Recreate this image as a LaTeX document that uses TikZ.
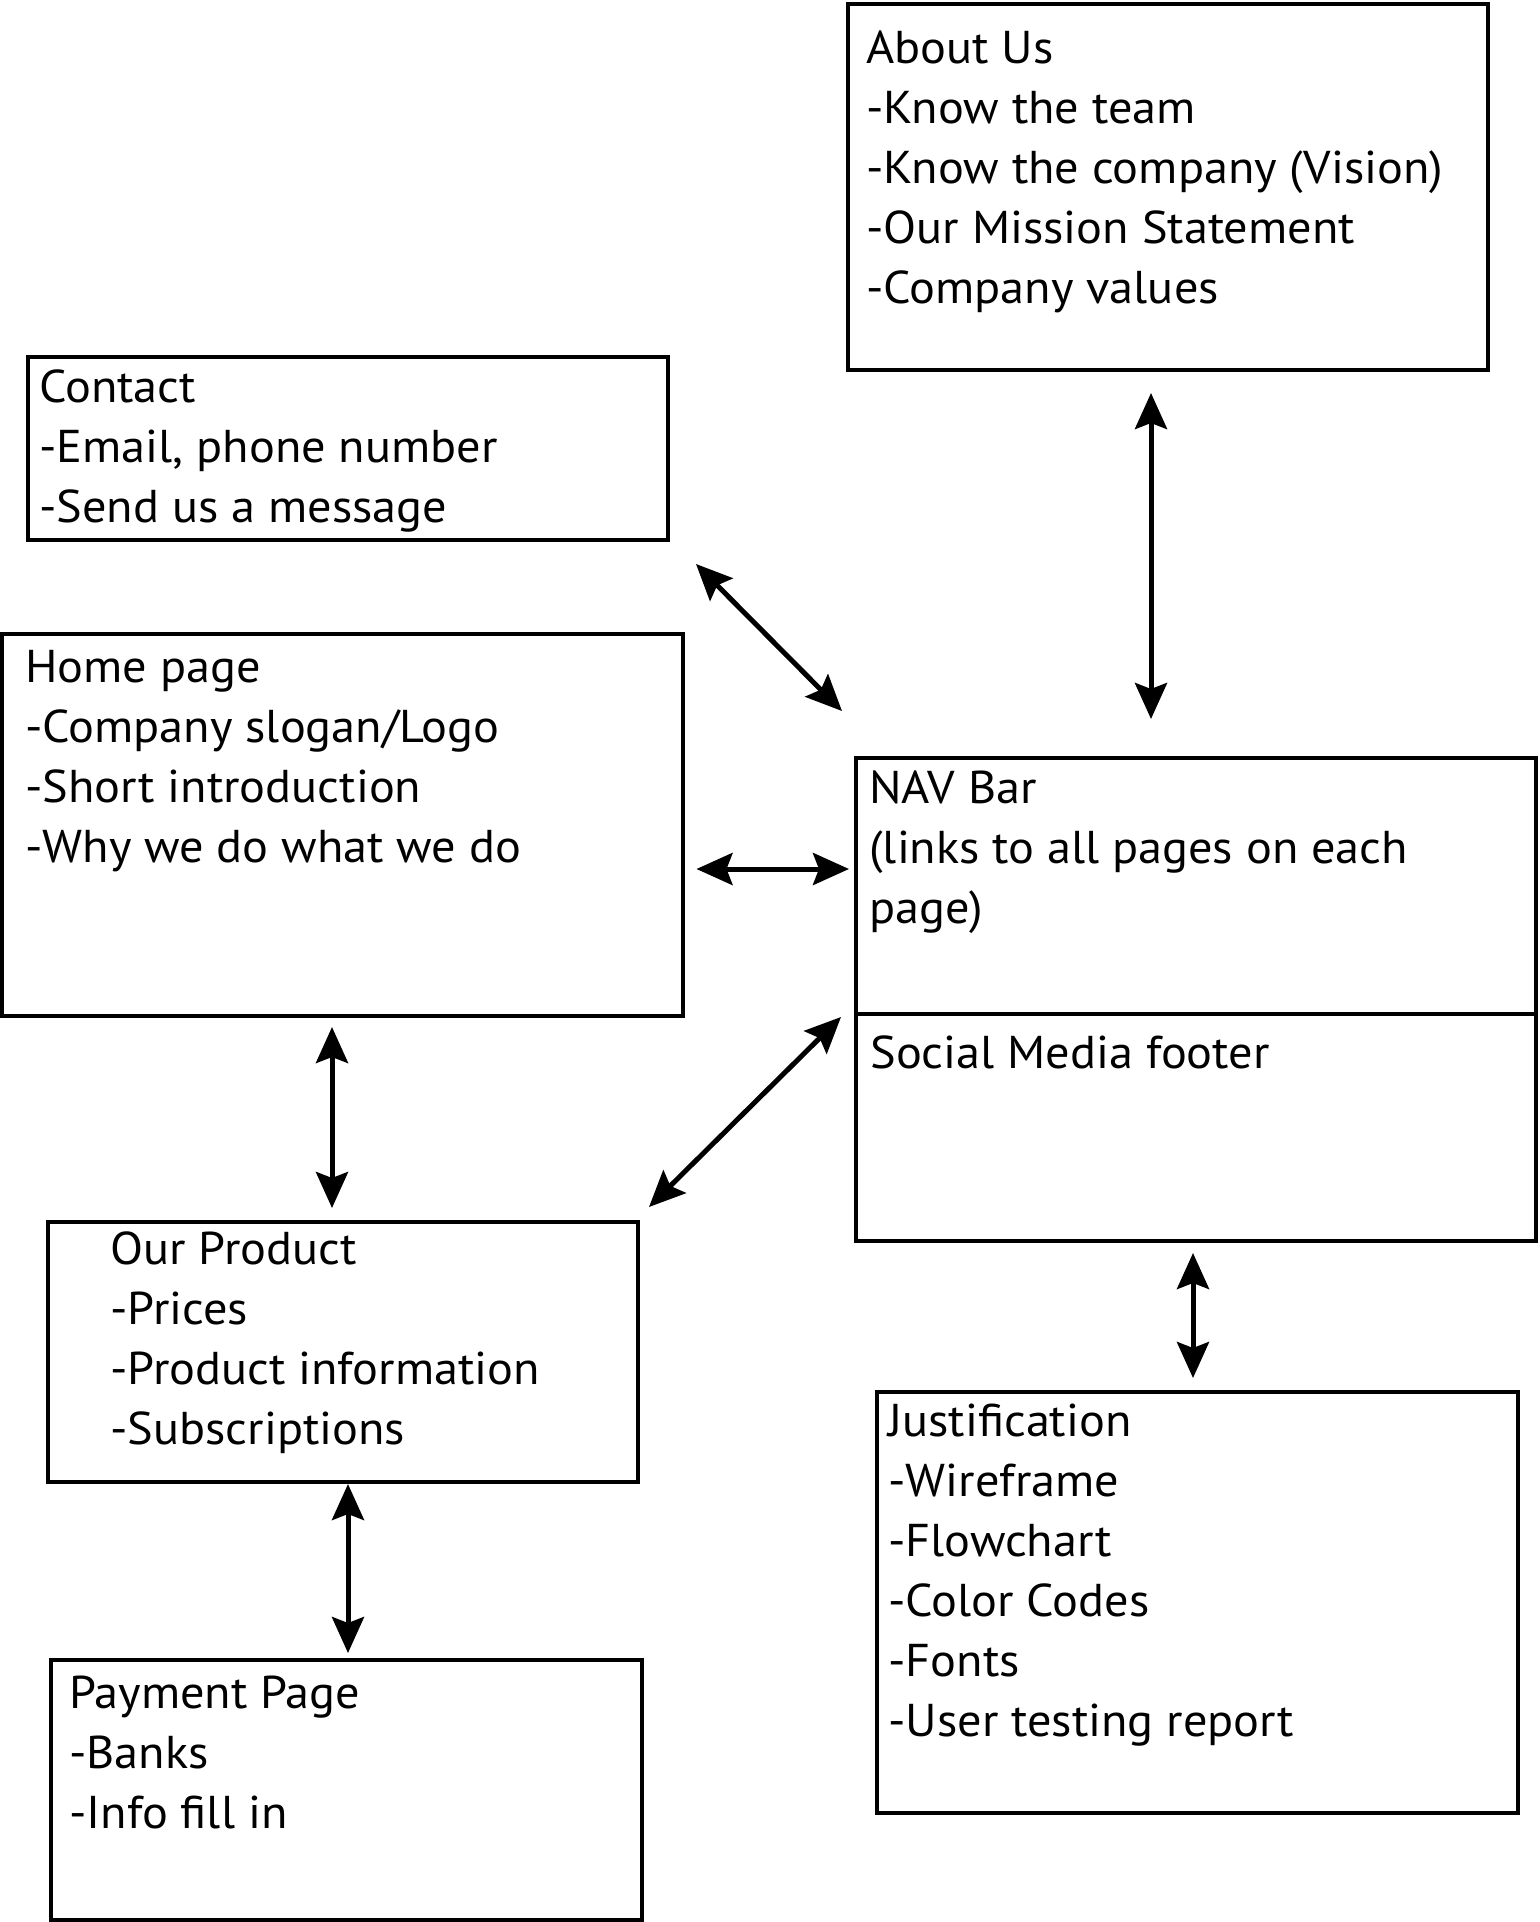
\documentclass[tikz,border=0pt]{standalone}
\usepackage{fontspec}
\setmainfont[FakeStretch=1.05]{PT Sans}
\usepackage{tikz}
\usetikzlibrary{arrows.meta}

\begin{document}
\begin{tikzpicture}[x=0.5pt,y=-0.5pt]
\tikzstyle{pageBox} =
[
	shape			= rectangle,		% shape
	draw			= black,			% colour of the border
	line width		= 2pt,				% thickness of the border
	outer sep		= 0pt,				% anchors sit on the border
	anchor			= north west		% placed by its upper left corner
]
\tikzstyle{pageText} =
[
	anchor			= base west,		% last baseline, left edge
	align			= left,				% lines flush left
	inner sep		= 0pt,				% no padding
	font			= \fontsize{23}{30}\selectfont	% used font
]
\tikzstyle{link} =
[
	{Stealth[length=18pt,width=16pt,inset=3pt]}-{Stealth[length=18pt,width=16pt,inset=3pt]},
	line width		= 2.5pt				% thickness of the connector
]
\useasboundingbox (0,0) rectangle (1540,1922);
% boxes
\node (about) [pageBox, minimum width=320pt, minimum height=183pt] at (848,4) {};
\node (contact) [pageBox, minimum width=320pt, minimum height=91.5pt] at (28,357) {};
\node (home) [pageBox, minimum width=340.5pt, minimum height=191pt] at (2,634) {};
\node (nav) [pageBox, minimum width=340pt, minimum height=128pt] at (856,758) {};
\node (social) [pageBox, minimum width=340pt, minimum height=113.5pt] at (856,1014) {};
\node (product) [pageBox, minimum width=295pt, minimum height=130pt] at (48,1222) {};
\node (justif) [pageBox, minimum width=320.5pt, minimum height=210.5pt] at (877,1392) {};
\node (payment) [pageBox, minimum width=295.5pt, minimum height=130pt] at (51,1660) {};
% texts (shift = first baseline + one line per extra row)
\node (aboutText) [pageText] at ([shift={(18,299)}]about.north west) {About Us\\-Know the team\\-Know the company (Vision)\\-Our Mission Statement\\-Company values};
\node (contactText) [pageText] at ([shift={(11,165)}]contact.north west) {Contact\\-Email, phone number\\-Send us a message};
\node (homeText) [pageText] at ([shift={(23,228)}]home.north west) {Home page\\-Company slogan/Logo\\-Short introduction\\-Why we do what we do};
\node (navText) [pageText] at ([shift={(13,165)}]nav.north west) {NAV Bar\\(links to all pages on each\\page)};
\node (socialText) [pageText] at ([shift={(14,54)}]social.north west) {Social Media footer};
\node (productText) [pageText] at ([shift={(62,222)}]product.north west) {Our Product\\-Prices\\-Product information\\-Subscriptions};
\node (justifText) [pageText] at ([shift={(11,344)}]justif.north west) {Justification\\-Wireframe\\-Flowchart\\-Color Codes\\-Fonts\\-User testing report};
\node (paymentText) [pageText] at ([shift={(18,168)}]payment.north west) {Payment Page\\-Banks\\-Info fill in};
% connectors
\draw [link] ([shift={(-17,23)}]about.south) -- ([shift={(-45,-39)}]nav.north);
\draw [link] ([shift={(28,24)}]contact.south east) -- ([shift={(-14,-47)}]nav.north west);
\draw [link] ([shift={(13.5,44)}]home.east) -- ([shift={(-7,-17)}]nav.west);
\draw [link] ([shift={(-10.5,11)}]home.south) -- ([shift={(-11,-14)}]product.north);
\draw [link] ([shift={(11,-15)}]product.north east) -- ([shift={(-15,3)}]social.north west);
\draw [link] ([shift={(5,2)}]product.south) -- ([shift={(1.5,-7)}]payment.north);
\draw [link] ([shift={(-3,12)}]social.south) -- ([shift={(-4.5,-14)}]justif.north);
\end{tikzpicture}
\end{document}
